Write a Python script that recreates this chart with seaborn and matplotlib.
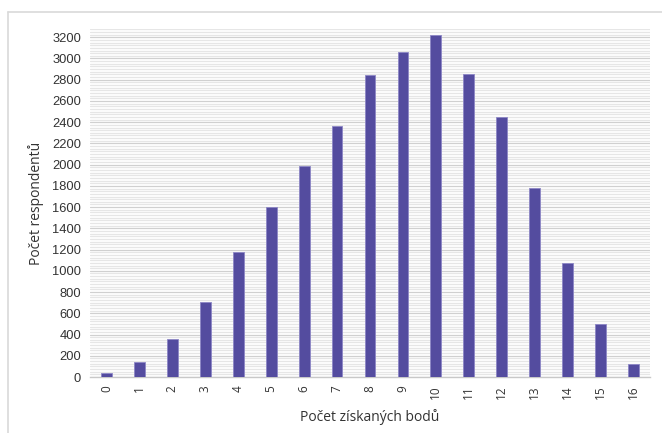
import matplotlib
matplotlib.use("Agg")
import matplotlib.pyplot as plt
from matplotlib.lines import Line2D
from matplotlib.ticker import MultipleLocator
import seaborn as sns
import pandas as pd

# Počet respondentů podle získaných bodů
points = [str(i) for i in range(17)]
counts = [40, 140, 355, 710, 1180, 1600, 1985, 2360, 2840, 3065, 3225,
          2850, 2445, 1780, 1070, 495, 125]
y_ticks = list(range(0, 3201, 200))

x_label = "Počet získaných bodů"
y_label = "Počet respondentů"

bar_color = "#544c9f"
label_font = ["Open Sans", "DejaVu Sans"]
tick_font = ["Liberation Sans", "DejaVu Sans"]

sns.set_theme(style="white")
plt.rcParams["font.family"] = label_font

df = pd.DataFrame({"body": points, "pocet": counts})

fig = plt.figure(figsize=(6.62, 4.33), dpi=100)
ax = fig.add_axes([90 / 662, 56 / 433, 560 / 662, (377 - 29.3) / 433])

sns.barplot(data=df, x="body", y="pocet", color=bar_color, saturation=1,
            width=0.33, edgecolor="#8d87c6", linewidth=0.6, ax=ax, zorder=3)

ax.set_xlim(-0.5, 16.5)
ax.set_ylim(0, 3275)
ax.yaxis.set_major_locator(MultipleLocator(200))
ax.yaxis.set_minor_locator(MultipleLocator(25))
ax.grid(which="major", axis="y", color="#d0d0d0", linewidth=0.9, zorder=0)
ax.grid(which="minor", axis="y", color="#e6e6e6", linewidth=0.9, zorder=0)
ax.set_axisbelow(True)

for side in ["top", "right", "left"]:
    ax.spines[side].set_visible(False)
ax.spines["bottom"].set_color("#c8c8c8")
ax.spines["bottom"].set_linewidth(1.0)

ax.tick_params(axis="both", which="both", length=0)
ax.tick_params(axis="y", pad=6.5)
ax.tick_params(axis="x", pad=6)
ax.set_yticks(y_ticks)
ax.set_yticklabels([str(v) for v in y_ticks], fontsize=9.3, color="#333333",
                   family=tick_font)
ax.set_xticks(range(len(points)))
ax.set_xticklabels(points, rotation=90, fontsize=8.5, color="#333333",
                   family=label_font)

ax.set_xlabel(x_label, fontsize=10, color="#333333", labelpad=7)
ax.set_ylabel(y_label, fontsize=10, color="#333333", labelpad=6)

# Light frame around the chart area
fig.add_artist(Line2D([8 / 662, 1.0], [1 - 11.5 / 433, 1 - 11.5 / 433],
                      transform=fig.transFigure, color="#d9d9d9", linewidth=1.2))
fig.add_artist(Line2D([8 / 662, 8 / 662], [0.0, 1 - 11.5 / 433],
                      transform=fig.transFigure, color="#d9d9d9", linewidth=1.2))

fig.savefig("out.png", dpi=100, facecolor="white")
